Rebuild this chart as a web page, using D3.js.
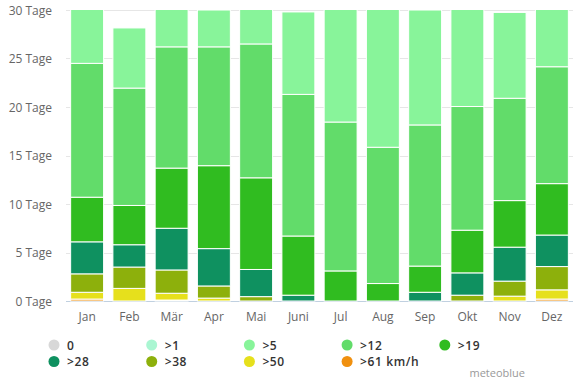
<!DOCTYPE html>
<html>
<head>
<meta charset="utf-8">
<script src="https://cdn.jsdelivr.net/npm/d3@7"></script>
<style>
  body { margin: 0; background: #fff; }
  svg { font-family: "Open Sans", "DejaVu Sans", sans-serif; }
</style>
</head>
<body>
<div id="chart"></div>
<script>
var months = ["Jan", "Feb", "Mär", "Apr", "Mai", "Juni", "Jul", "Aug", "Sep", "Okt", "Nov", "Dez"];

// days per month for each wind class (bottom to top in the stack)
var over61 = [0.2, 0, 0.1, 0, 0, 0, 0, 0, 0, 0, 0, 0.2];
var over50 = [0.7, 1.3, 0.7, 0.3, 0, 0, 0, 0, 0, 0, 0.5, 0.95];
var over38 = [1.9, 2.2, 2.4, 1.25, 0.45, 0, 0, 0, 0, 0.6, 1.55, 2.4];
var over28 = [3.3, 2.3, 4.3, 3.85, 2.8, 0.6, 0, 0, 0.9, 2.3, 3.5, 3.25];
var over19 = [4.6, 4.05, 6.2, 8.55, 9.45, 6.1, 3.1, 1.8, 2.7, 4.4, 4.8, 5.3];
var over12 = [13.8, 12.1, 12.5, 12.25, 13.8, 14.6, 15.35, 14.05, 14.55, 12.75, 10.55, 12.05];
var over5 = [6.4, 6.2, 4.9, 3.8, 4.5, 8.5, 12.55, 15.1, 11.85, 10.95, 8.85, 6.85];
var over1 = [0, 0, 0, 0, 0, 0, 0, 0, 0, 0, 0, 0];
var calm = [0, 0, 0, 0, 0, 0, 0, 0, 0, 0, 0, 0];

var yTicks = [0, 5, 10, 15, 20, 25, 30];

var series = [
  {key: ">61 km/h", values: over61, color: "#f0900f"},
  {key: ">50", values: over50, color: "#e6e01c"},
  {key: ">38", values: over38, color: "#8db00c"},
  {key: ">28", values: over28, color: "#0f9160"},
  {key: ">19", values: over19, color: "#30bc20"},
  {key: ">12", values: over12, color: "#62dc6a"},
  {key: ">5", values: over5, color: "#88f49a"},
  {key: ">1", values: over1, color: "#aaf6d2"},
  {key: "0", values: calm, color: "#d8d8d8"}
];

var legendOrder = ["0", ">1", ">5", ">12", ">19", ">28", ">38", ">50", ">61 km/h"];

var width = 582, height = 388;
var margin = {top: 10, right: 9, bottom: 87, left: 66};
var innerW = width - margin.left - margin.right,
    innerH = height - margin.top - margin.bottom;

var svg = d3.select("#chart").append("svg")
    .attr("width", width)
    .attr("height", height);

var g = svg.append("g")
    .attr("transform", "translate(" + margin.left + "," + margin.top + ")");

var x = d3.scaleBand().domain(months).range([0, innerW]).paddingInner(0.22).paddingOuter(0.11);
var y = d3.scaleLinear().domain([0, 30]).range([innerH, 0]);

// grid lines
g.selectAll("line.grid")
  .data(yTicks)
  .enter().append("line")
    .attr("class", "grid")
    .attr("x1", 0).attr("x2", innerW)
    .attr("y1", function(d) { return Math.round(y(d)) + 0.5; })
    .attr("y2", function(d) { return Math.round(y(d)) + 0.5; })
    .attr("stroke", function(d) { return d === 0 ? "#c0d0e0" : "#e6e6e6"; })
    .attr("stroke-width", 1);

// y labels
g.selectAll("text.ylab")
  .data(yTicks)
  .enter().append("text")
    .attr("class", "ylab")
    .attr("x", -14)
    .attr("y", function(d) { return y(d) + 4.5; })
    .attr("text-anchor", "end")
    .attr("fill", "#666")
    .attr("font-size", "12px")
    .text(function(d) { return d + " Tage"; });

// stack
var table = months.map(function(m, i) {
  var row = {month: m};
  series.forEach(function(s) { row[s.key] = s.values[i]; });
  return row;
});
var stacked = d3.stack().keys(series.map(function(s) { return s.key; }))(table);

svg.append("defs").append("clipPath").attr("id", "plotclip")
  .append("rect").attr("x", 0).attr("y", 0).attr("width", innerW).attr("height", innerH + 1);

var plot = g.append("g").attr("clip-path", "url(#plotclip)");

plot.selectAll("g.layer")
  .data(stacked)
  .enter().append("g")
    .attr("class", "layer")
    .attr("fill", function(d, i) { return series[i].color; })
  .selectAll("rect")
  .data(function(d) { return d; })
  .enter().append("rect")
    .filter(function(d) { return d[1] - d[0] > 0; })
    .attr("x", function(d) { return x(d.data.month); })
    .attr("width", x.bandwidth())
    .attr("y", function(d) { return y(d[1]); })
    .attr("height", function(d) { return Math.max(0, y(d[0]) - y(d[1])); })
    .attr("stroke", "#fff")
    .attr("stroke-width", 1);

// x labels
g.selectAll("text.xlab")
  .data(months)
  .enter().append("text")
    .attr("class", "xlab")
    .attr("x", function(d) { return x(d) + x.bandwidth() / 2; })
    .attr("y", innerH + 20)
    .attr("text-anchor", "middle")
    .attr("fill", "#666")
    .attr("font-size", "12px")
    .text(function(d) { return d; });

// legend
var colorOf = {};
series.forEach(function(s) { colorOf[s.key] = s.color; });

var legend = svg.append("g").attr("transform", "translate(54,345)");
legend.selectAll("g.item")
  .data(legendOrder)
  .enter().append("g")
    .attr("class", "item")
    .attr("transform", function(d, i) {
      return "translate(" + ((i % 5) * 97.7) + "," + (Math.floor(i / 5) * 16.5) + ")";
    })
    .each(function(d) {
      var it = d3.select(this);
      it.append("circle").attr("r", 5.5).attr("fill", colorOf[d]);
      it.append("text")
        .attr("x", 13).attr("y", 4.5)
        .attr("fill", "#333")
        .attr("font-size", "12px")
        .attr("font-weight", "600")
        .attr("letter-spacing", "0.6px")
        .text(d);
    });

svg.append("text")
  .attr("x", 525).attr("y", 377)
  .attr("text-anchor", "end")
  .attr("fill", "#999")
  .attr("font-size", "11px")
  .text("meteoblue");
</script>
</body>
</html>
